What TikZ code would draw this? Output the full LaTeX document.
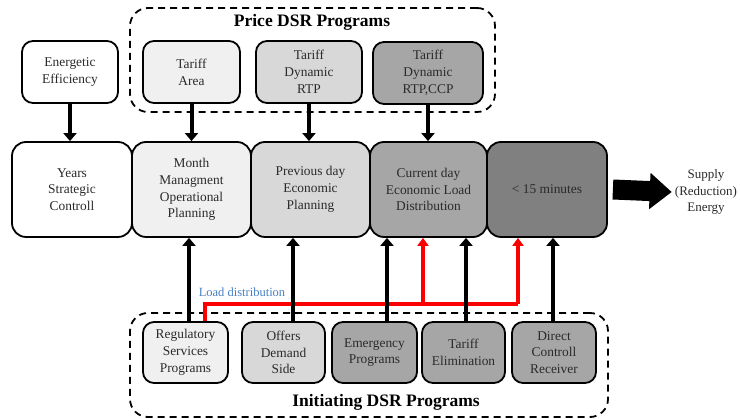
\documentclass[tikz,border=0pt]{standalone}
\usepackage{fontspec}
\setmainfont{Liberation Serif}
\usetikzlibrary{arrows.meta,calc}
\definecolor{g1}{HTML}{F0F0F0}
\definecolor{g2}{HTML}{D8D8D8}
\definecolor{g3}{HTML}{A6A6A6}
\definecolor{g4}{HTML}{808080}
\definecolor{txt}{HTML}{2A2A2A}
\definecolor{lblue}{RGB}{70,128,195}
\definecolor{rline}{RGB}{250,0,0}
\tikzset{
  box/.style={draw=black, line width=1.8pt, rounded corners=11pt, align=center, inner sep=0pt,
    text=txt, font=\fontsize{13.4}{16.8}\selectfont},
  topbox/.style={box, minimum height=62pt},
  mainbox/.style={box, rounded corners=14pt, minimum width=119pt, minimum height=95pt},
  botbox/.style={box, minimum height=61pt},
  dashbox/.style={draw=black, line width=1.8pt, dash pattern=on 7pt off 5pt, rounded corners=18pt, inner sep=0pt},
  title/.style={font=\bfseries\fontsize{17.5}{20}\selectfont, inner sep=0pt},
  barrow/.style={draw=black, line width=4pt, -{Triangle[width=13pt,length=8pt]}},
  rarrow/.style={draw=rline, line width=3.5pt, -{Triangle[width=11pt,length=8pt]}},
  rline/.style={draw=rline, line width=3.5pt},
}
\begin{document}
\begin{tikzpicture}[x=1pt,y=-1pt]
\useasboundingbox (0,0) rectangle (740,419);
% dashed groups
\node[dashbox, minimum width=365pt, minimum height=104pt] (pricebox) at (312.5,60) {};
\node[dashbox, minimum width=478pt, minimum height=104pt] (initbox) at (369,365) {};
\node[title] (pricetitle) at (312,22) {Price DSR Programs};
\node[title] (inittitle) at (386,402) {Initiating DSR Programs};
% top boxes
\node[topbox, minimum width=96pt, fill=white] (ee) at (70,72) {Energetic\\Efficiency};
\node[topbox, minimum width=97pt, fill=g1] (ta) at (191.5,72) {Tariff\\Area};
\node[topbox, minimum width=106pt, fill=g2] (rtp) at (309,72) {Tariff\\Dynamic\\RTP};
\node[topbox, minimum width=110pt, fill=g3] (ccp) at (428,73) {Tariff\\Dynamic\\RTP,CCP};
% main row
\node[mainbox, minimum width=120pt, fill=white] (years) at (72,189.5) {Years\\Strategic\\Controll};
\node[mainbox, fill=g1] (month) at (191.5,189.5) {Month\\Managment\\Operational\\Planning};
\node[mainbox, fill=g2] (prev) at (310.5,189.5) {Previous day\\Economic\\Planning};
\node[mainbox, minimum width=117pt, fill=g3] (cur) at (428.5,189.5) {Current day\\Economic Load\\Distribution};
\node[mainbox, minimum width=120pt, fill=g4] (q15) at (547,189.5) {< 15 minutes};
\node[align=center, text=txt, font=\fontsize{13}{16.5}\selectfont, inner sep=0pt] (supply) at (706,192) {Supply\\(Reduction)\\Energy};
% bottom boxes
\node[botbox, minimum width=85pt, fill=g1] (reg) at (185.5,352.5) {Regulatory\\Services\\Programs};
\node[botbox, minimum width=83pt, fill=g2] (offers) at (283.5,352.5) {Offers\\Demand\\Side};
\node[botbox, minimum width=85pt, fill=g3] (emer) at (374.5,352.5) {Emergency\\Programs};
\node[botbox, minimum width=83pt, fill=g3] (telim) at (463.5,352.5) {Tariff\\Elimination};
\node[botbox, minimum width=84pt, fill=g3] (direct) at (554,352.5) {Direct\\Controll\\Receiver};
% top arrows
\draw[barrow] (ee.south) -- (ee.south |- years.north);
\draw[barrow] (ta.south) -- (ta.south |- month.north);
\draw[barrow] (rtp.south) -- (rtp.south |- prev.north);
\draw[barrow] (ccp.south) -- (ccp.south |- cur.north);
% big output arrow
\draw[draw=black, line width=20pt, -{Triangle[width=35pt,length=22pt]}] ([xshift=5pt]q15.east) -- ([xshift=-3pt]supply.west);
% red load distribution lines
\coordinate (rbus) at (0,304);
\coordinate (r1) at ([xshift=-5.5pt]cur.south);
\coordinate (r2) at ([xshift=-29pt]q15.south);
\draw[rline] ([xshift=19.5pt]reg.north) |- (rbus -| r2);
\draw[rarrow] (rbus -| r2) -- (r2);
\draw[rarrow] (rbus -| r1) -- (r1);
\node[text=lblue, font=\fontsize{12.5}{15}\selectfont, inner sep=0pt] (loadlbl) at (242,292) {Load distribution};
% bottom arrows
\draw[barrow] ([xshift=3.5pt]reg.north) coordinate (b1) -- (b1 |- month.south);
\draw[barrow] ([xshift=9.5pt]offers.north) coordinate (b2) -- (b2 |- prev.south);
\draw[barrow] ([xshift=12.5pt]emer.north) coordinate (b3) -- (b3 |- cur.south);
\draw[barrow] ([xshift=2.5pt]telim.north) coordinate (b4) -- (b4 |- cur.south);
\draw[barrow] ([xshift=-1pt]direct.north) coordinate (b5) -- (b5 |- q15.south);
\end{tikzpicture}
\end{document}
